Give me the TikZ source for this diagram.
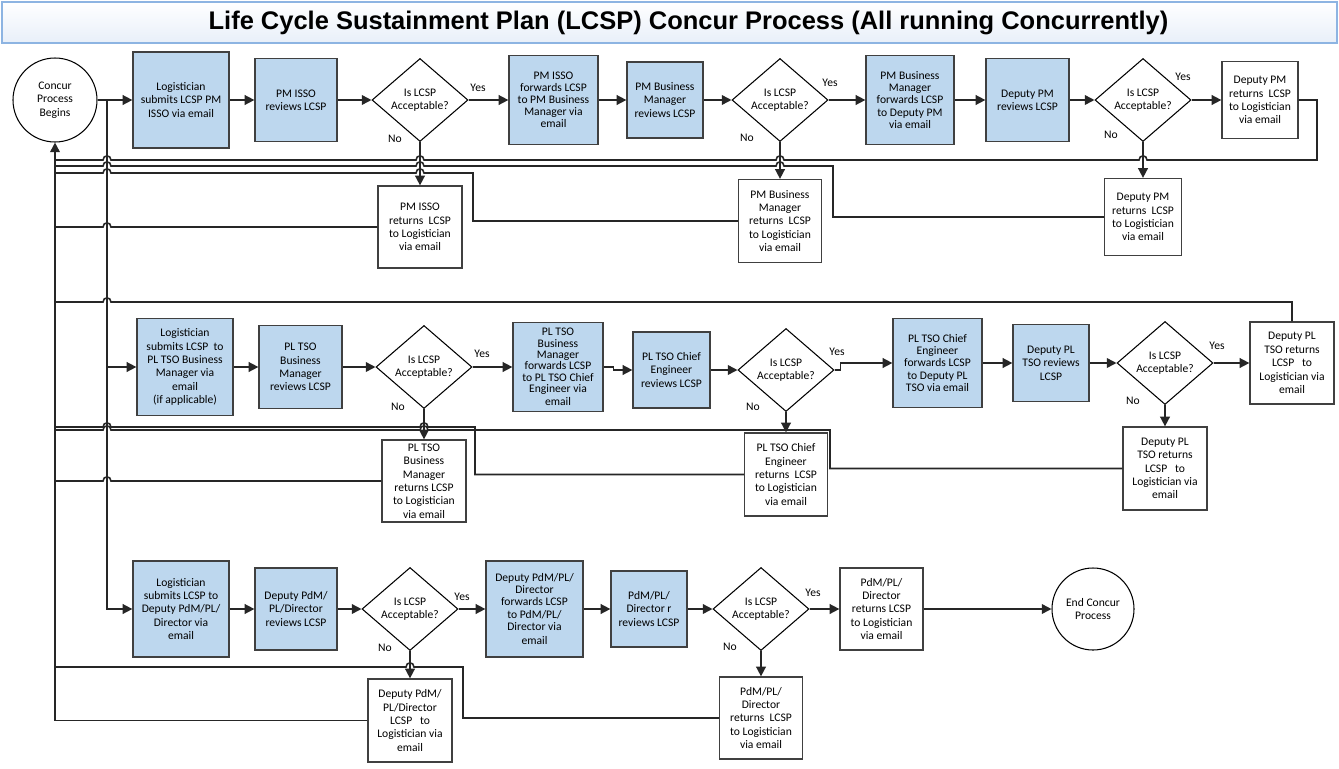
\documentclass[tikz,border=0pt]{standalone}
\usepackage{fontspec}
\usepackage{tikz}
\usetikzlibrary{shapes.geometric,arrows.meta}
\setmainfont{Carlito}
\newfontfamily\titlefont{Liberation Sans}
\definecolor{taskblue}{RGB}{189, 215, 238}
\definecolor{edgegray}{RGB}{64, 64, 64}
\definecolor{titleedge}{RGB}{141, 180, 226}
\definecolor{titlefill}{RGB}{232, 239, 249}
% jump of a connector over a crossing line (connectors run right to left)
\newcommand{\hop}[2]{-- ({#1+4},#2) .. controls ({#1+4},{#2-5.5}) and ({#1-4},{#2-5.5}) .. ({#1-4},#2)}

\begin{document}
\begin{tikzpicture}[
			x=0.02cm, y=-0.02cm,
			font=\fontsize{6.6}{7.6}\selectfont,
			wh/.style 2 args={minimum width=#1*0.02cm, minimum height=#2*0.02cm},
			task/.style={draw=edgegray, line width=0.7pt, fill=taskblue, rectangle, align=center, inner sep=0pt},
			retbox/.style={draw=edgegray, line width=0.7pt, fill=white, rectangle, align=center, inner sep=0pt},
			decision/.style={draw=black, line width=0.6pt, diamond, align=center, inner sep=0pt, wh={96}{83}},
			terminal/.style={draw=black, line width=0.6pt, circle, align=center, inner sep=0pt},
			lbl/.style={inner sep=0pt},
			conn/.style={draw=black!85, line width=0.9pt},
			arr/.style={conn, -{Triangle[length=5.5pt,width=5.5pt]}}
			]
			\useasboundingbox (0,0) rectangle (1339,768);
			
			% Title bar
			\node[wh={1335}{41}, draw=titleedge, line width=0.8pt, top color=white, bottom color=titlefill] (title) at (669.5,22.5)
				{\hspace*{0.76cm}\titlefont\bfseries\fontsize{14.5}{16}\selectfont Life Cycle Sustainment Plan (LCSP) Concur Process (All running Concurrently)};
			
			% Row 1 - PM ISSO / PM Business Manager / Deputy PM
			\node[terminal, wh={84}{84}] (begin) at (55,100) {Concur\\Process\\Begins};
			\node[task, wh={96}{96}] (sub1) at (181,100) {Logistician\\submits LCSP PM\\ISSO via email};
			\node[task, wh={82}{83}] (rev1) at (296,100) {PM ISSO\\reviews LCSP};
			\node[decision] (dec1) at (420,100) {Is LCSP\\Acceptable?};
			\node[task, wh={89}{89}, font=\fontsize{6.6}{6.9}\selectfont] (fwd1) at (553.5,100) {PM ISSO\\forwards LCSP\\to PM Business\\Manager via\\email};
			\node[task, wh={76}{76}] (rev2) at (665,100) {PM Business\\Manager\\reviews LCSP};
			\node[decision] (dec2) at (780,100) {Is LCSP\\Acceptable?};
			\node[task, wh={88}{89}, font=\fontsize{6.6}{7}\selectfont] (fwd2) at (910,100) {PM Business\\Manager\\forwards LCSP\\to Deputy PM\\via email};
			\node[task, wh={83}{83}] (rev3) at (1027.5,100) {Deputy PM\\reviews LCSP};
			\node[decision] (dec3) at (1143,100) {Is LCSP\\Acceptable?};
			\node[retbox, wh={76}{77}] (ry1) at (1260,100) {Deputy PM\\returns\ \ LCSP\\to Logistician\\via email};
			\node[retbox, wh={84}{82}] (rn1) at (420,227) {PM ISSO\\returns\ \ LCSP\\to Logistician\\via email};
			\node[retbox, wh={83}{83}] (rn2) at (780,221) {PM Business\\Manager\\returns\ \ LCSP\\to Logistician\\via email};
			\node[retbox, wh={77}{77}] (rn3) at (1143,217) {Deputy PM\\returns\ \ LCSP\\to Logistician\\via email};
			\node[lbl] (yes1) at (478,88) {Yes};
			\node[lbl] (no1) at (395,139) {No};
			\node[lbl] (yes2) at (830,83) {Yes};
			\node[lbl] (no2) at (747,138) {No};
			\node[lbl] (yes3) at (1183,77) {Yes};
			\node[lbl] (no3) at (1111,135) {No};
			
			% Row 2 - PL TSO Business Manager / Chief Engineer / Deputy PL TSO
			\node[task, wh={96}{97}] (sub2) at (185,367) {Logistician\\submits LCSP\ \ to\\PL TSO Business\\Manager via\\email\\(if applicable)};
			\node[task, wh={83}{83}] (rev4) at (300.5,367) {PL TSO\\Business\\Manager\\reviews LCSP};
			\node[decision] (dec4) at (424,367) {Is LCSP\\Acceptable?};
			\node[task, wh={90}{89}, font=\fontsize{6.6}{6.5}\selectfont] (fwd4) at (558,367) {PL TSO\\Business\\Manager\\forwards LCSP\\to PL TSO Chief\\Engineer via\\[1pt]email};
			\node[task, wh={77}{76}] (rev5) at (671.5,370) {PL TSO Chief\\Engineer\\reviews LCSP};
			\node[decision] (dec5) at (786,370) {Is LCSP\\Acceptable?};
			\node[task, wh={89}{89}, font=\fontsize{6.6}{7}\selectfont] (fwd5) at (937.5,363) {PL TSO Chief\\Engineer\\forwards LCSP\\to Deputy PL\\TSO via email};
			\node[task, wh={76}{77}] (rev6) at (1051,363) {Deputy PL\\TSO reviews\\LCSP};
			\node[decision] (dec6) at (1165,363) {Is LCSP\\Acceptable?};
			\node[retbox, wh={84}{82}] (ry2) at (1292,363) {Deputy PL\\TSO returns\\LCSP\ \ \ to\\Logistician via\\email};
			\node[retbox, wh={84}{82}] (rn4) at (424,481) {PL TSO\\Business\\Manager\\returns LCSP\\to Logistician\\via email};
			\node[retbox, wh={83}{83}] (rn5) at (786,474.5) {PL TSO Chief\\Engineer\\returns\ \ LCSP\\to Logistician\\via email};
			\node[retbox, wh={84}{83}] (rn6) at (1165,468.5) {Deputy PL\\TSO returns\\LCSP\ \ \ to\\Logistician via\\email};
			\node[lbl] (yes4) at (482,354) {Yes};
			\node[lbl] (no4) at (398,407) {No};
			\node[lbl] (yes5) at (837,352) {Yes};
			\node[lbl] (no5) at (753,407) {No};
			\node[lbl] (yes6) at (1217,346) {Yes};
			\node[lbl] (no6) at (1133,401) {No};
			
			% Row 3 - Deputy PdM/PL/Director / PdM/PL/Director
			\node[task, wh={96}{96}] (sub3) at (181,609) {Logistician\\submits LCSP to\\Deputy PdM/PL/\\Director via\\email};
			\node[task, wh={82}{82}] (rev7) at (296,609) {Deputy PdM/\\PL/Director\\reviews LCSP};
			\node[decision] (dec7) at (410,609) {Is LCSP\\Acceptable?};
			\node[task, wh={97}{96}, font=\fontsize{6.6}{7}\selectfont] (fwd7) at (534.5,609) {Deputy PdM/PL/\\Director\\forwards LCSP\\to PdM/PL/\\Director via\\[1pt]email};
			\node[task, wh={76}{76}] (rev8) at (649,609) {PdM/PL/\\Director r\\reviews LCSP};
			\node[decision] (dec8) at (761,609) {Is LCSP\\Acceptable?};
			\node[retbox, wh={83}{82}] (ry3) at (881.5,609) {PdM/PL/\\Director\\returns LCSP\\to Logistician\\via email};
			\node[terminal, wh={82}{82}] (finish) at (1093,609) {End Concur\\Process};
			\node[retbox, wh={84}{83}] (rn7) at (410,720.5) {Deputy PdM/\\PL/Director\\LCSP\ \ \ to\\Logistician via\\email};
			\node[retbox, wh={83}{82}] (rn8) at (761,718) {PdM/PL/\\Director\\returns\ \ LCSP\\to Logistician\\via email};
			\node[lbl] (yes7) at (462,597) {Yes};
			\node[lbl] (no7) at (385,648) {No};
			\node[lbl] (yes8) at (813,593) {Yes};
			\node[lbl] (no8) at (730,647) {No};
			
			% Returns to the Logistician (back to the start)
			\draw[conn] (ry1.east) -| (1317,160) \hop{1143}{160} \hop{780}{160} \hop{420}{160} \hop{107}{160} -- (55,160);
			\draw[conn] (rn3.west) -| (833,166) \hop{780}{166} \hop{420}{166} \hop{107}{166} -- (55,166);
			\draw[conn] (rn2.west) -| (473,173) \hop{420}{173} \hop{107}{173} -- (55,173);
			\draw[conn] (rn1.west) \hop{107}{227} -- (55,227);
			\draw[conn] (ry2.north) |- (300,302) \hop{107}{302} -- (55,302);
			\draw[conn] (rn5.west) -| (475,427) \hop{424}{427} \hop{107}{427} -- (55,427);
			\draw[conn] (rn6.west) -| (830,430) \hop{424}{430} \hop{107}{430} -- (55,430);
			\draw[conn] (rn4.west) \hop{107}{481} -- (55,481);
			\draw[conn] (rn8.west) -| (463,667) \hop{410}{667} -- (55,667);
			\draw[arr] (rn7.west) -| (begin.south);
			
			% Start of the three concurrent reviews
			\coordinate (fork) at (107,100);
			\draw[arr] (begin.east) -- (sub1.west);
			\draw[arr] (fork) |- (sub2.west);
			\draw[arr] (fork) |- (sub3.west);
			
			% Row 1 flow
			\draw[arr] (sub1) -- (rev1);
			\draw[arr] (rev1) -- (dec1);
			\draw[arr] (dec1) -- (fwd1);
			\draw[arr] (fwd1) -- (rev2);
			\draw[arr] (rev2) -- (dec2);
			\draw[arr] (dec2) -- (fwd2);
			\draw[arr] (fwd2) -- (rev3);
			\draw[arr] (rev3) -- (dec3);
			\draw[arr] (dec3) -- (ry1);
			\draw[arr] (dec1) -- (rn1);
			\draw[arr] (dec2) -- (rn2);
			\draw[arr] (dec3) -- (rn3);
			
			% Row 2 flow
			\draw[arr] (sub2) -- (rev4);
			\draw[arr] (rev4) -- (dec4);
			\draw[arr] (dec4) -- (fwd4);
			\draw[arr] (fwd4.east) -- ++(10,0) |- (rev5.west);
			\draw[arr] (rev5) -- (dec5);
			\draw[arr] (dec5.east) -- ++(6,0) |- (fwd5.west);
			\draw[arr] (fwd5) -- (rev6);
			\draw[arr] (rev6) -- (dec6);
			\draw[arr] (dec6) -- (ry2);
			\draw[arr] (dec4) -- (rn4);
			\draw[arr] (dec5) -- (rn5);
			\draw[arr] (dec6) -- (rn6);
			
			% Row 3 flow
			\draw[arr] (sub3) -- (rev7);
			\draw[arr] (rev7) -- (dec7);
			\draw[arr] (dec7) -- (fwd7);
			\draw[arr] (fwd7) -- (rev8);
			\draw[arr] (rev8) -- (dec8);
			\draw[arr] (dec8) -- (ry3);
			\draw[arr] (ry3) -- (finish);
			\draw[arr] (dec7) -- (rn7);
			\draw[arr] (dec8) -- (rn8);
			
		\end{tikzpicture}
\end{document}
